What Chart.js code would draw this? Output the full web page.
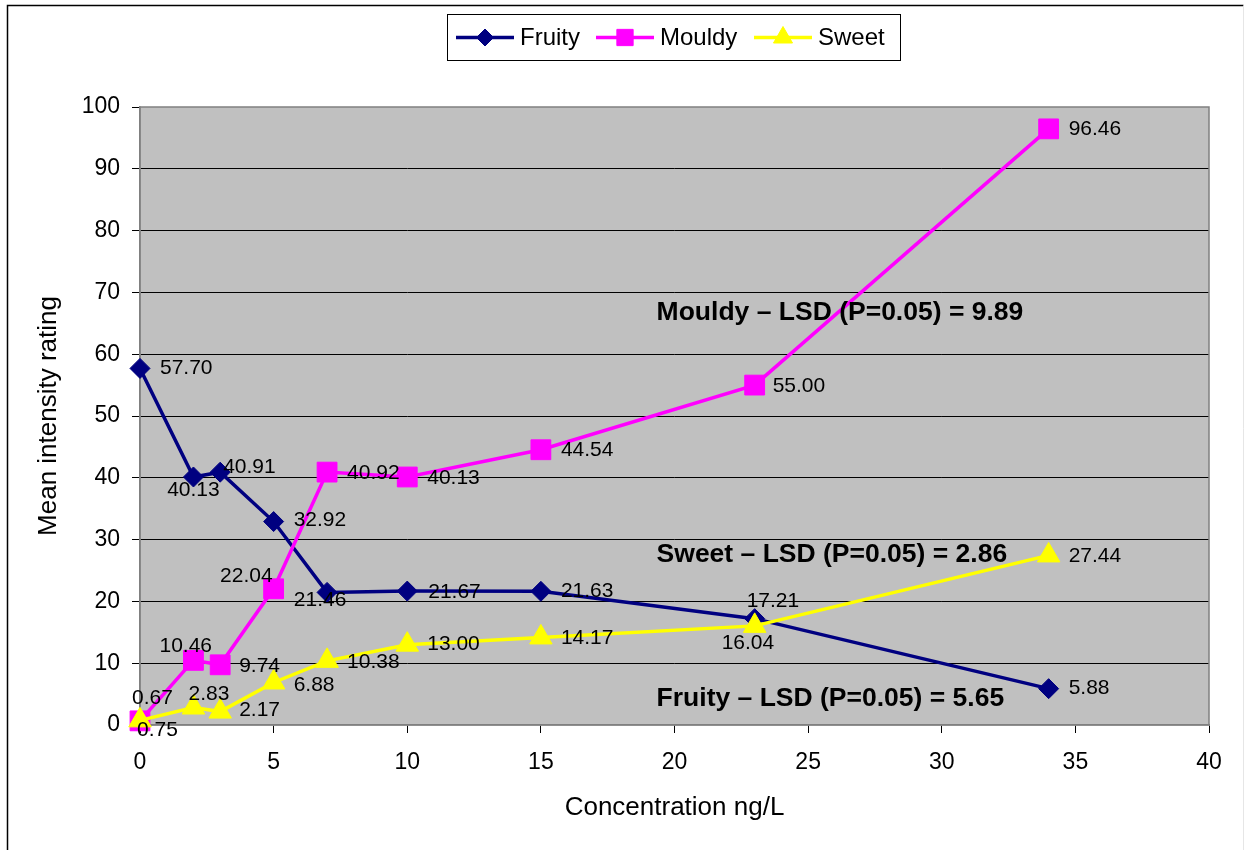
<!DOCTYPE html>
<html><head><meta charset="utf-8">
<script src="https://cdn.jsdelivr.net/npm/chart.js@4/dist/chart.umd.min.js"></script>
<style>html,body{margin:0;padding:0;background:#fff}canvas{display:block}</style>
</head><body>
<canvas id="c" width="1245" height="850"></canvas>
<script>
// ---- data ----
const concentration = [0, 2, 3, 5, 7, 10, 15, 23, 34];
const fruity = [57.70, 40.13, 40.91, 32.92, 21.46, 21.67, 21.63, 17.21, 5.88];
const mouldy = [0.67, 10.46, 9.74, 22.04, 40.92, 40.13, 44.54, 55.00, 96.46];
const sweet  = [0.75, 2.83, 2.17, 6.88, 10.38, 13.00, 14.17, 16.04, 27.44];
const seriesNames = ['Fruity', 'Mouldy', 'Sweet'];
const xTickValues = [0, 5, 10, 15, 20, 25, 30, 35, 40];
const yTickValues = [0, 10, 20, 30, 40, 50, 60, 70, 80, 90, 100];
const xTitle = 'Concentration ng/L';
const yTitle = 'Mean intensity rating';
const lsdNotes = ['Mouldy \u2013 LSD (P=0.05) = 9.89', 'Sweet \u2013 LSD (P=0.05) = 2.86', 'Fruity \u2013 LSD (P=0.05) = 5.65'];
const lsdAnchorX = [19.33, 19.33, 19.33];
const lsdAnchorY = [66.7, 27.5, 4.2];

// ---- label placement (offsets in px from the point, alignment) ----
const labelPlacement = [
  [[20,0,'left'],[0,13,'center'],[3,-5,'left'],[20,-1,'left'],[-7,8,'center'],[21,1,'left'],[20,0,'left'],[-8,-17,'left'],[20,0,'left']],
  [[-8,-23,'left'],[-34,-14,'left'],[19,1,'left'],[-1,-13,'right'],[20,1,'left'],[20,1,'left'],[20,0,'left'],[18,1,'left'],[20,0,'left']],
  [[-3,10,'left'],[-5,-13,'left'],[19,-1,'left'],[20,3,'left'],[20,1,'left'],[20,0,'left'],[20,1,'left'],[-33,17,'left'],[20,1,'left']]
];

const FONT = '"Liberation Sans", Arial, sans-serif';
const colors = ['#000080', '#FF00FF', '#FFFF00'];
const styles = ['rectRot', 'rect', 'triangle'];
const radii = [10, 14, 13];
const legendRadii = [8.5, 11.5, 11];

function toPts(vals) { return vals.map((v, i) => ({x: concentration[i], y: v})); }
const seriesValues = [fruity, mouldy, sweet];

const datasets = seriesValues.map((vals, k) => ({
  label: seriesNames[k],
  data: toPts(vals),
  showLine: true,
  borderColor: colors[k],
  backgroundColor: colors[k],
  borderWidth: 3.5,
  pointStyle: styles[k],
  pointRadius: radii[k],
  pointHoverRadius: radii[k],
  pointBorderWidth: 1,
  pointBorderColor: colors[k],
  pointBackgroundColor: colors[k],
  clip: false,
  order: 3 - k
}));

const drawPointFn = (Chart.helpers && Chart.helpers.drawPoint) ? Chart.helpers.drawPoint : null;

const framePlugin = {
  id: 'frame',
  beforeDraw(chart) {
    const {ctx, chartArea: a} = chart;
    ctx.save();
    ctx.fillStyle = '#fff';
    ctx.fillRect(0, 0, chart.width, chart.height);
    ctx.fillStyle = '#C0C0C0';
    ctx.fillRect(a.left, a.top, a.right - a.left, a.bottom - a.top);
    ctx.strokeStyle = '#000';
    ctx.lineWidth = 1.5;
    ctx.beginPath();
    ctx.moveTo(7.5, 860); ctx.lineTo(7.5, 5.5); ctx.lineTo(1243.5, 5.5);
    ctx.stroke();
    ctx.strokeStyle = '#e6e6e6';
    ctx.lineWidth = 1;
    ctx.beginPath(); ctx.moveTo(1243.5, 5.5); ctx.lineTo(1243.5, 860); ctx.stroke();
    ctx.restore();
  },
  beforeDatasetsDraw(chart) {
    const {ctx, chartArea: a} = chart;
    ctx.save();
    ctx.strokeStyle = '#808080';
    ctx.lineWidth = 1.5;
    ctx.strokeRect(a.left, a.top, a.right - a.left, a.bottom - a.top);
    ctx.restore();
  },
  afterDatasetsDraw(chart) {
    const {ctx} = chart;
    ctx.save();
    ctx.fillStyle = '#000';
    ctx.font = '21px ' + FONT;
    ctx.textBaseline = 'middle';
    chart.data.datasets.forEach((ds, k) => {
      const meta = chart.getDatasetMeta(k);
      meta.data.forEach((el, i) => {
        const p = labelPlacement[k][i];
        ctx.textAlign = p[2];
        ctx.fillText(seriesValues[k][i].toFixed(2), el.x + p[0], el.y + p[1]);
      });
    });
    ctx.font = 'bold 26.5px ' + FONT;
    ctx.textAlign = 'left';
    const xs = chart.scales.x, ys = chart.scales.y;
    lsdNotes.forEach((t, i) => {
      ctx.fillText(t, xs.getPixelForValue(lsdAnchorX[i]), ys.getPixelForValue(lsdAnchorY[i]));
    });
    // legend
    const bx = 447.5, by = 14.5, bw = 453, bh = 46;
    ctx.fillStyle = '#fff';
    ctx.fillRect(bx, by, bw, bh);
    ctx.strokeStyle = '#000';
    ctx.lineWidth = 1;
    ctx.strokeRect(bx, by, bw, bh);
    const cy = by + bh / 2;
    const lineStarts = [456, 596, 754];
    ctx.font = '24px ' + FONT;
    ctx.textAlign = 'left';
    chart.data.datasets.forEach((ds, k) => {
      const x0 = lineStarts[k];
      ctx.strokeStyle = colors[k];
      ctx.lineWidth = 3.5;
      ctx.beginPath(); ctx.moveTo(x0, cy); ctx.lineTo(x0 + 58, cy); ctx.stroke();
      ctx.fillStyle = colors[k];
      ctx.strokeStyle = colors[k];
      ctx.lineWidth = 1;
      if (drawPointFn) {
        drawPointFn(ctx, {pointStyle: styles[k], radius: legendRadii[k], rotation: 0, borderWidth: 1}, x0 + 29, cy);
      }
      ctx.fillStyle = '#000';
      ctx.fillText(ds.label, x0 + 64, cy + 1);
    });
    ctx.restore();
  }
};

new Chart(document.getElementById('c'), {
  type: 'scatter',
  data: { datasets },
  plugins: [framePlugin],
  options: {
    responsive: false,
    devicePixelRatio: 1,
    animation: false,
    events: [],
    layout: { padding: { left: 0, top: 107, right: 36, bottom: 0 } },
    plugins: { legend: { display: false }, tooltip: { enabled: false } },
    scales: {
      x: {
        type: 'linear', min: 0, max: 40,
        afterBuildTicks(s) { s.ticks = xTickValues.map(v => ({value: v})); },
        afterFit(s) { s.height = 125; },
        ticks: { color: '#000', font: { family: FONT, size: 23 }, padding: 16, maxRotation: 0, autoSkip: false },
        grid: { drawOnChartArea: false, drawTicks: true, tickLength: 8, tickColor: '#000', tickWidth: 1 },
        border: { display: true, color: '#808080', width: 1.5 },
        title: { display: true, text: xTitle, color: '#000', font: { family: FONT, size: 26 }, padding: { top: 0, bottom: 27 } }
      },
      y: {
        type: 'linear', min: 0, max: 100,
        afterBuildTicks(s) { s.ticks = yTickValues.map(v => ({value: v})); },
        afterFit(s) { s.width = 140; },
        ticks: { color: '#000', font: { family: FONT, size: 23 }, padding: 12, autoSkip: false },
        grid: {
          color: c => (c.tick && (c.tick.value === 0 || c.tick.value === 100)) ? 'rgba(0,0,0,0)' : '#000',
          lineWidth: 1, drawTicks: true, tickLength: 8, tickColor: '#000', tickWidth: 1
        },
        border: { display: true, color: '#808080', width: 1.5 },
        title: { display: true, text: yTitle, color: '#000', font: { family: FONT, size: 26 }, padding: { top: 33, bottom: 0 } }
      }
    }
  }
});
</script>
</body></html>
